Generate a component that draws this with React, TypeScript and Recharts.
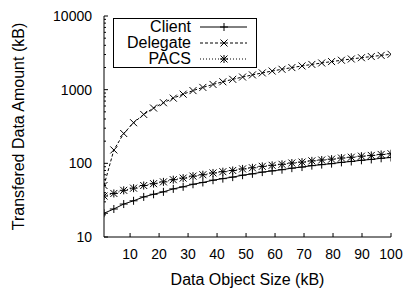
import { LineChart, Line, XAxis, YAxis, Legend } from "recharts";

// sizes in kB (x axis)
const sizes = [
  1, 4.4, 7.8, 11.2, 14.7, 18.1, 21.5, 24.9, 28.3, 31.7, 35.1, 38.6, 42, 45.4, 48.8,
  52.2, 55.6, 59, 62.4, 65.8, 69.3, 72.7, 76.1, 79.5, 82.9, 86.3, 89.8, 93.2, 96.6, 100,
];
const client = [
  21, 24, 28, 31, 35, 38, 41, 45, 48, 52, 55, 59, 62, 65, 69,
  72, 76, 79, 82, 86, 89, 93, 96, 99, 103, 106, 110, 113, 117, 120,
];
const delegate = [
  50, 152, 254, 356, 461, 563, 665, 767, 869, 971, 1073, 1178, 1280, 1382, 1484,
  1586, 1688, 1790, 1892, 1994, 2099, 2201, 2303, 2405, 2507, 2609, 2714, 2816, 2918, 3020,
];
const pacs = [
  36, 39, 43, 46, 50, 53, 56, 60, 63, 67, 70, 74, 77, 80, 84,
  87, 91, 94, 97, 101, 104, 108, 111, 114, 118, 121, 125, 128, 132, 135,
];

const xTicks = [10, 20, 30, 40, 50, 60, 70, 80, 90, 100];
const yMajor = [10, 100, 1000, 10000];
const yTicks = [
  10, 20, 30, 40, 50, 60, 70, 80, 90,
  100, 200, 300, 400, 500, 600, 700, 800, 900,
  1000, 2000, 3000, 4000, 5000, 6000, 7000, 8000, 9000, 10000,
];

const data = sizes.map((size, i) => ({
  size,
  client: client[i],
  delegate: delegate[i],
  pacs: pacs[i],
}));

const FONT = "'Liberation Sans', Arial, Helvetica, sans-serif";

const Plus = ({ cx, cy }: any) => (
  <path d={`M${cx - 4},${cy}H${cx + 4}M${cx},${cy - 4}V${cy + 4}`} stroke="#000" strokeWidth={1} fill="none" />
);
const Cross = ({ cx, cy }: any) => (
  <path
    d={`M${cx - 3.5},${cy - 3.5}L${cx + 3.5},${cy + 3.5}M${cx - 3.5},${cy + 3.5}L${cx + 3.5},${cy - 3.5}`}
    stroke="#000"
    strokeWidth={1}
    fill="none"
  />
);
const Star = ({ cx, cy }: any) => (
  <g>
    <Plus cx={cx} cy={cy} />
    <Cross cx={cx} cy={cy} />
  </g>
);

const BottomTick = ({ x, y, payload }: any) => (
  <g>
    <line x1={x} y1={y} x2={x} y2={y - 4} stroke="#000" />
    <text x={x} y={y + 22} textAnchor="middle" fontSize={14} fontFamily={FONT} fill="#000">
      {payload.value}
    </text>
  </g>
);
const TopTick = ({ x, y }: any) => <line x1={x} y1={y} x2={x} y2={y + 4} stroke="#000" />;

const LeftTick = ({ x, y, payload }: any) => {
  const major = yMajor.includes(payload.value);
  return (
    <g>
      <line x1={x} y1={y} x2={x + (major ? 4 : 2)} y2={y} stroke="#000" />
      {major && (
        <text x={x - 12} y={y + 5} textAnchor="end" fontSize={14} fontFamily={FONT} fill="#000">
          {payload.value}
        </text>
      )}
    </g>
  );
};
const RightTick = ({ x, y, payload }: any) => {
  const major = yMajor.includes(payload.value);
  return <line x1={x} y1={y} x2={x - (major ? 4 : 2)} y2={y} stroke="#000" />;
};

const series = [
  { name: "Client", dash: undefined, Marker: Plus },
  { name: "Delegate", dash: "3 2", Marker: Cross },
  { name: "PACS", dash: "1 2", Marker: Star },
];

const LegendBox = () => (
  <svg width={144} height={50} style={{ display: "block" }}>
    <rect x={0.5} y={0.5} width={143} height={49} fill="#fff" stroke="#000" />
    {series.map((s, i) => (
      <g key={s.name}>
        <text x={78} y={14 + i * 16} textAnchor="end" fontSize={16} fontFamily={FONT} fill="#000">
          {s.name}
        </text>
        <line x1={87} y1={9 + i * 16} x2={134} y2={9 + i * 16} stroke="#000" strokeDasharray={s.dash} />
        <s.Marker cx={111} cy={9 + i * 16} />
      </g>
    ))}
  </svg>
);

export default function App() {
  return (
    <div style={{ position: "absolute", left: 0, top: 0, background: "#fff" }}>
      <LineChart width={408} height={289} data={data} margin={{ top: 16, right: 17, left: 0, bottom: 0 }}>
        <XAxis
          dataKey="size"
          type="number"
          domain={[1, 100]}
          allowDataOverflow
          ticks={xTicks}
          interval={0}
          height={52}
          tickSize={0}
          tickMargin={0}
          tickLine={false}
          axisLine={{ stroke: "#000" }}
          tick={<BottomTick />}
          label={{
            value: "Data Object Size (kB)",
            position: "insideBottom",
            offset: 4,
            fontSize: 16,
            fontFamily: FONT,
            fill: "#000",
          }}
        />
        <XAxis
          xAxisId="top"
          orientation="top"
          dataKey="size"
          type="number"
          domain={[1, 100]}
          allowDataOverflow
          ticks={xTicks}
          interval={0}
          height={0}
          tickSize={0}
          tickMargin={0}
          tickLine={false}
          axisLine={{ stroke: "#000" }}
          tick={<TopTick />}
        />
        <YAxis
          yAxisId="left"
          scale="log"
          type="number"
          domain={[10, 10000]}
          allowDataOverflow
          ticks={yTicks}
          interval={0}
          width={104}
          tickSize={0}
          tickMargin={0}
          tickLine={false}
          axisLine={{ stroke: "#000" }}
          tick={<LeftTick />}
          label={{
            content: ({ viewBox }: any) => (
              <text
                transform={`translate(${viewBox.x + 24}, ${viewBox.y + viewBox.height / 2}) rotate(-90)`}
                textAnchor="middle"
                fontSize={16}
                fontFamily={FONT}
                fill="#000"
              >
                Transfered Data Amount (kB)
              </text>
            ),
          }}
        />
        <YAxis
          yAxisId="right"
          orientation="right"
          scale="log"
          type="number"
          domain={[10, 10000]}
          allowDataOverflow
          ticks={yTicks}
          interval={0}
          width={0}
          tickSize={0}
          tickMargin={0}
          tickLine={false}
          axisLine={{ stroke: "#000" }}
          tick={<RightTick />}
        />
        <Legend
          layout="horizontal"
          verticalAlign="middle"
          align="center"
          wrapperStyle={{ left: 113, top: 18, width: 144, height: 50 }}
          content={() => <LegendBox />}
        />
        <Line yAxisId="left" dataKey="client" name="Client" stroke="#000" strokeWidth={1} dot={<Plus />} isAnimationActive={false} />
        <Line
          yAxisId="left"
          dataKey="delegate"
          name="Delegate"
          stroke="#000"
          strokeWidth={1}
          strokeDasharray="3 2"
          dot={<Cross />}
          isAnimationActive={false}
        />
        <Line
          yAxisId="left"
          dataKey="pacs"
          name="PACS"
          stroke="#000"
          strokeWidth={1}
          strokeDasharray="1 2"
          dot={<Star />}
          isAnimationActive={false}
        />
      </LineChart>
    </div>
  );
}
